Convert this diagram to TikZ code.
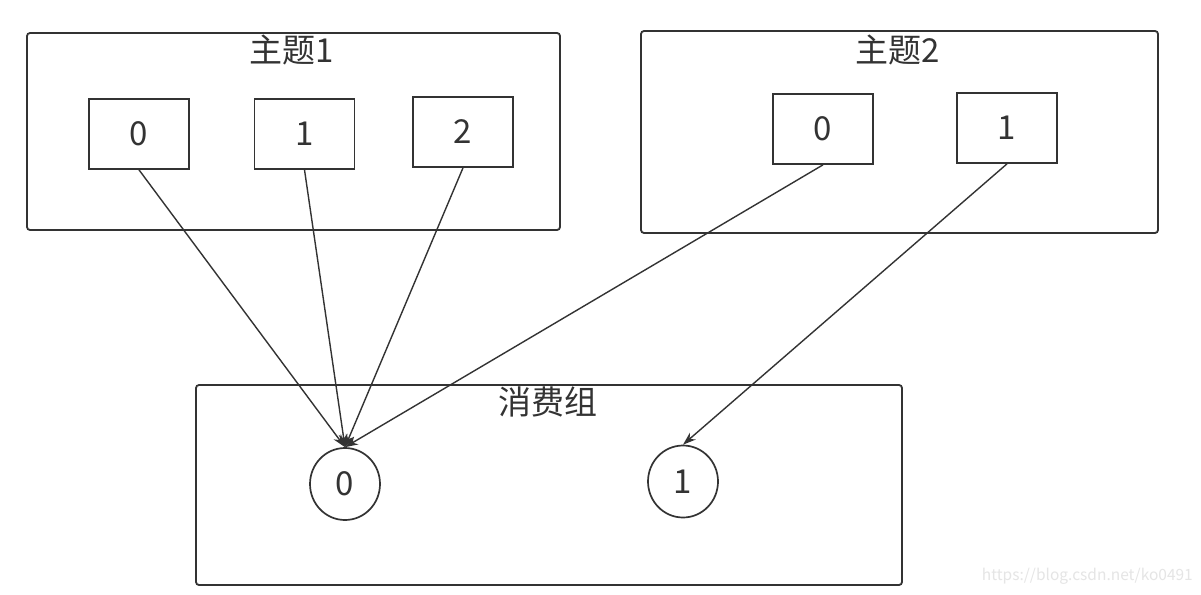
\documentclass[tikz,border=0pt]{standalone}
\usepackage{fontspec}
\setmainfont{Noto Sans CJK SC}
\usetikzlibrary{arrows.meta,shapes.geometric}
\definecolor{ln}{HTML}{333333}
\begin{document}
\begin{tikzpicture}[x=1pt,y=-1pt,
  group/.style={draw=ln,line width=1.8pt,rounded corners=3pt},
  part/.style={draw=ln,line width=1.7pt,minimum width=100pt,minimum height=70pt,inner sep=0pt,font=\fontsize{33}{33}\selectfont,text=ln},
  cons/.style={draw=ln,line width=1.7pt,ellipse,minimum width=70pt,minimum height=72pt,inner sep=0pt,font=\fontsize{33}{33}\selectfont,text=ln},
  ttl/.style={font=\fontsize{33}{33}\selectfont,text=ln,inner sep=0pt},
  link/.style={draw=ln,line width=1.4pt,-{Stealth[length=13pt,width=9pt]}}]
\useasboundingbox (0,0) rectangle (1201,594);
\fill[white] (0,0) rectangle (1201,594);
% groups
\draw[group] (27,33) rectangle (560,230);
\draw[group] (641,31) rectangle (1158,233);
\draw[group] (196,385) rectangle (902,585);
\node[ttl] (t1) at (292,50) {主题1};
\node[ttl] (t2) at (898,50) {主题2};
\node[ttl] (tc) at (548,402) {消费组};
% partitions
\node[part] (a0) at (139,134) {0};
\node[part] (a1) at (304.5,134) {1};
\node[part] (a2) at (463,132) {2};
\node[part] (b0) at (823,129) {0};
\node[part] (b1) at (1007,128) {1};
% consumers
\node[cons] (c0) at (345,484) {0};
\node[cons] (c1) at (683,481.5) {1};
% links
\draw[link] (a0.south) -- (c0.north);
\draw[link] (a1.south) -- (c0.north);
\draw[link] (a2.south) -- (c0.north);
\draw[link] (b0.south) -- (c0.north);
\draw[link] (b1.south) -- (c1.north);
\node[font=\fontsize{15.5}{15.5}\selectfont,text=black!10,anchor=east,inner sep=0pt] (wm) at (1193,576) {https://blog.csdn.net/ko0491};
\end{tikzpicture}
\end{document}
